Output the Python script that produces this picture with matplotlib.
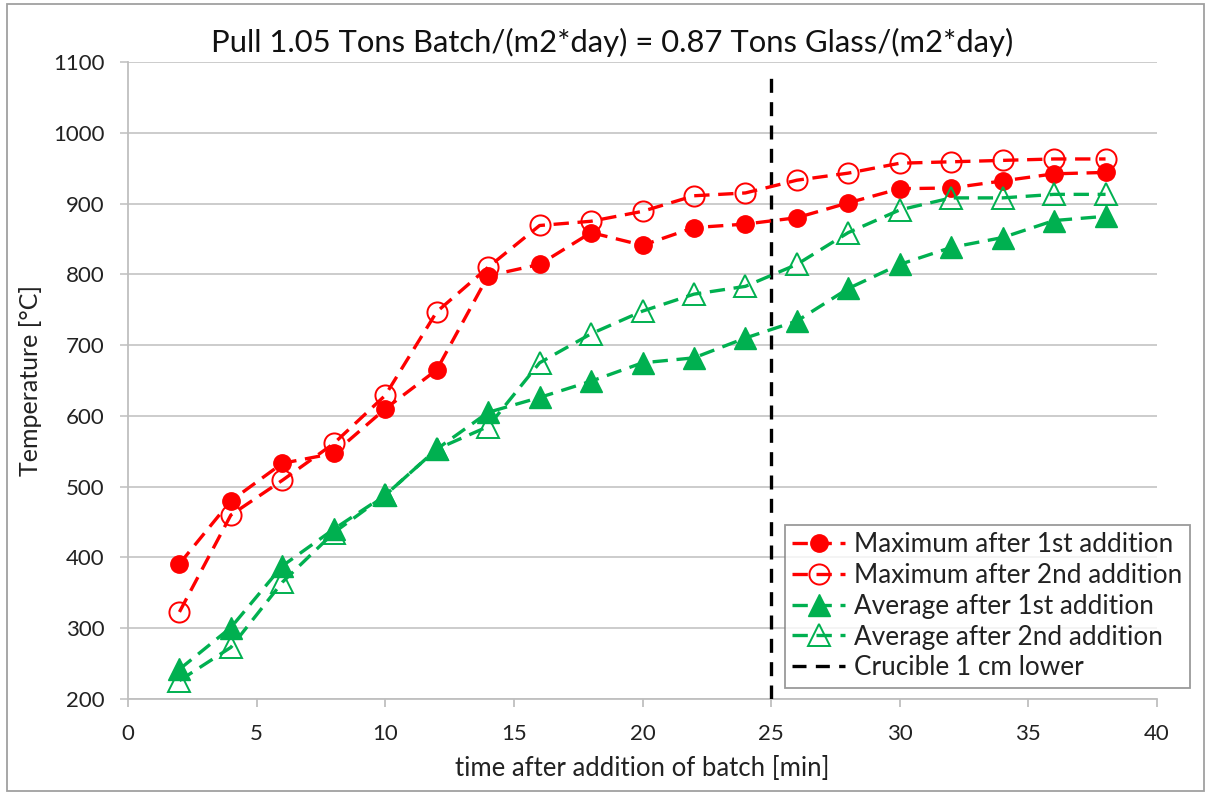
import matplotlib
matplotlib.use("Agg")
import matplotlib.pyplot as plt
from matplotlib.patches import Rectangle

plt.rcParams['font.family'] = ['Lato', 'DejaVu Sans']

time_min = [2, 4, 6, 8, 10, 12, 14, 16, 18, 20, 22, 24, 26, 28, 30, 32, 34, 36, 38]
max_1st = [391, 480, 533, 547, 610, 665, 798, 814, 859, 841, 866, 871, 880, 901, 921, 922, 932, 942, 944]
max_2nd = [323, 460, 509, 561, 629, 747, 810, 869, 875, 889, 911, 915, 933, 943, 957, 959, 961, 963, 963]
avg_1st = [242, 301, 388, 440, 488, 553, 605, 626, 649, 675, 682, 710, 734, 780, 814, 838, 852, 876, 882]
avg_2nd = [226, 273, 365, 435, 488, 553, 585, 675, 716, 748, 772, 783, 814, 859, 891, 908, 908, 913, 913]
crucible_time = 25

labels = ["Maximum after 1st addition", "Maximum after 2nd addition",
          "Average after 1st addition", "Average after 2nd addition",
          "Crucible 1 cm lower"]
title = "Pull 1.05 Tons Batch/(m2*day) = 0.87 Tons Glass/(m2*day)"

RED = "#ff0000"
GREEN = "#00b050"
TEXT = "#222222"
dash = (0, (4.6, 2.6))

W, H = 1205, 793
fig = plt.figure(figsize=(W / 100, H / 100), dpi=100)
ax = fig.add_axes([128 / W, 1 - 699 / H, (1157 - 128) / W, (699 - 62) / H])

ax.plot(time_min, max_1st, linestyle=dash, color=RED, lw=2.4, marker='o', ms=12.5,
        mfc=RED, mec=RED, label=labels[0], zorder=4)
ax.plot(time_min, max_2nd, linestyle=dash, color=RED, lw=2.4, marker='o', ms=14.5,
        mfc='none', mec=RED, mew=1.4, label=labels[1], zorder=4)
ax.plot(time_min, avg_1st, linestyle=dash, color=GREEN, lw=2.4, marker='^', ms=15.5,
        mfc=GREEN, mec=GREEN, label=labels[2], zorder=4)
ax.plot(time_min, avg_2nd, linestyle=dash, color=GREEN, lw=2.4, marker='^', ms=15.5,
        mfc='none', mec=GREEN, mew=1.4, label=labels[3], zorder=4)
ax.axvline(crucible_time, ymax=(699 - 72) / (699 - 62), color='black', lw=2.4,
           linestyle=(0, (4.2, 2.8)), label=labels[4], zorder=3)

ax.set_xlim(0, 40)
ax.set_ylim(200, 1100)
ax.set_xticks(range(0, 41, 5))
ax.set_yticks(range(200, 1101, 100))
ax.grid(axis='y', color='#c8c8c8', lw=1.3)
ax.set_axisbelow(True)
for side in ['top', 'right']:
    ax.spines[side].set_visible(False)
for side in ['left', 'bottom']:
    ax.spines[side].set_color('#bfbfbf')
    ax.spines[side].set_linewidth(1.3)
ax.tick_params(axis='x', direction='out', length=6, color='#bfbfbf', width=1.3,
               labelsize=16, labelcolor=TEXT, pad=12)
ax.tick_params(axis='y', direction='out', length=6, color='#c8c8c8', width=1.3,
               labelsize=16, labelcolor=TEXT, pad=11)

ax.set_xlabel("time after addition of batch [min]", fontsize=18.5, color=TEXT, labelpad=9)
ax.set_ylabel("Temperature [°C]", fontsize=18, color=TEXT, labelpad=8)
fig.text(0.508, 1 - 42 / H, title, ha='center', va='center', fontsize=22.3, color='#111111')

leg = ax.legend(loc='lower right', bbox_to_anchor=(1.032, 0.017), borderaxespad=0,
                fontsize=18.8, frameon=True, fancybox=False, edgecolor='#808080',
                handlelength=2.0, handletextpad=0.35, labelspacing=0.22, borderpad=0.3)
leg.get_frame().set_linewidth(1.3)
for t in leg.get_texts():
    t.set_color(TEXT)

fig.patches.append(Rectangle((7 / W, 2 / H), 1 - 8 / W, 1 - 6 / H,
                             transform=fig.transFigure, fill=False,
                             edgecolor='#a0a0a0', lw=1.3))

fig.savefig("out.png", dpi=100)
